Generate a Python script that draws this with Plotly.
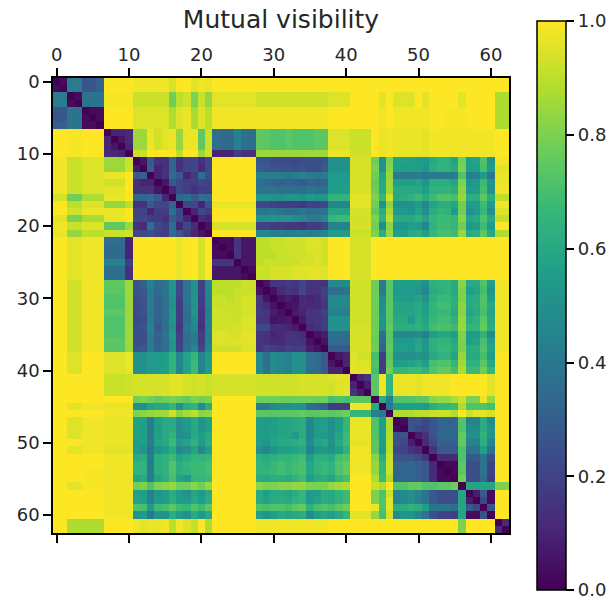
import plotly.graph_objects as go

# Upper triangle of the mutual-visibility matrix, in hundredths; each row starts just after the diagonal.
row_00 = [3, 42, 42, 27, 27, 30] + [100]*4 + [98]*5 + [94, 100, 100, 96, 98, 97] + [100]*41
row_01 = [42, 42, 27, 27, 30] + [100]*4 + [98]*5 + [94, 100, 100, 96, 98, 97] + [100]*41
tail_2 = [99]*4 + [92]*5 + [78, 90, 93, 80, 92, 84] + [96]*6 + [93]*10 + [95]*3 + [100]*3 + [100, 96, 100] + [95, 95, 95, 100, 96, 100, 100, 100, 100, 96] + [100]*4 + [88, 88]
row_02 = [3, 38, 38, 38] + tail_2
row_03 = [38, 38, 38] + tail_2
tail_4 = [100]*4 + [95]*5 + [88, 95, 97, 87, 95, 90] + [98]*16 + [100]*6 + [100, 98, 100] + [98, 98, 98, 98, 98, 100, 100, 99, 99, 99] + [100]*4 + [88, 88]
row_04 = [3, 3] + tail_4
row_05 = [3] + tail_4
row_06 = tail_4
tail_7 = [95]*3 + [92]*3 + [100, 97, 98] + [97, 97, 97, 97, 96, 98, 98, 98, 98, 98] + [98]*4 + [100, 100]
d_7 = [85, 85, 97, 93, 96, 97, 84, 97, 97, 75, 92]
e_7 = [36, 34, 34, 44, 36, 36]
f_7 = [75, 74, 72, 72, 74, 72, 72, 72, 74, 74]
row_07 = [10, 10, 12] + d_7 + e_7 + f_7 + tail_7
row_08 = [6, 12] + d_7 + e_7 + f_7 + tail_7
row_09 = [10] + d_7 + e_7 + f_7 + tail_7
row_10 = [92, 92, 100, 100, 100, 100, 90, 100, 100, 85, 93] + [10, 10, 10, 18, 14, 14] + [85]*10 + [97]*3 + [93]*3 + [100, 97, 98] + [97, 97, 97, 97, 96, 98, 98, 98, 98, 98] + [98]*4 + [100, 100]
row_11 = [6, 28, 14, 14, 33, 14, 20, 22, 14, 22] + [100]*6 + [27, 26, 24, 23, 23, 22, 24, 24, 24, 27] + [50, 50, 50] + [94]*3 + [78, 50, 80] + [57, 57, 57, 54, 54, 60, 64, 64, 58, 78] + [56, 58, 72, 52] + [98, 98]
row_12 = [30, 10, 14, 33, 14, 20, 22, 12, 22] + [100]*6 + [30, 28, 26, 26, 26, 24, 26, 24, 24, 28] + [50, 50, 50] + [94]*3 + [80, 50, 82] + [56, 56, 56, 56, 52, 62, 64, 64, 60, 80] + [56, 56, 70, 54] + [96, 96]
row_13 = [10, 14, 34, 28, 10, 18, 36, 24] + [100]*6 + [44, 42, 42, 42, 40, 42, 44, 42, 40, 42] + [54, 54, 54] + [94]*3 + [78, 58, 84] + [42, 42, 42, 42, 40, 42, 42, 42, 42, 72] + [44, 44, 54, 40] + [97, 97]
row_14 = [6, 28, 22, 18, 18, 22, 20] + [100]*6 + [36, 34, 32, 30, 32, 30, 28, 32, 30, 32] + [54, 54, 54] + [94]*3 + [76, 60, 85] + [56, 56, 56, 58, 52, 62, 62, 62, 58, 80] + [52, 54, 68, 52] + [97, 97]
row_15 = [10, 22, 18, 14, 18, 18] + [100]*6 + [38, 38, 38, 36, 36, 36, 36, 38, 36, 36] + [56, 56, 56] + [94]*3 + [78, 60, 85] + [60, 60, 60, 60, 56, 64, 64, 64, 62, 82] + [54, 56, 70, 52] + [98, 98]
row_16 = [32, 36, 28, 36, 34] + [100]*6 + [52, 52, 50, 50, 52, 52, 50, 54, 52, 52] + [65, 65, 65] + [96]*3 + [80, 66, 93] + [60, 62, 64, 68, 62, 68, 72, 72, 70, 84] + [62, 62, 74, 62] + [90, 90]
row_17 = [22, 22, 10, 26] + [97]*6 + [22, 22, 20, 18, 18, 18, 16, 20, 20, 22] + [46, 46, 46] + [96]*3 + [78, 50, 82] + [50, 50, 50, 54, 46, 58, 62, 62, 58, 78] + [54, 56, 68, 54] + [98, 98]
row_18 = [10, 22, 18] + [100]*6 + [40, 38, 40, 38, 36, 36, 40, 36, 36, 38] + [58, 58, 58] + [94]*3 + [76, 62, 87] + [54, 54, 52, 58, 50, 62, 66, 64, 54, 78] + [50, 54, 66, 50] + [95, 95]
row_19 = [12, 10] + [100]*6 + [50, 50, 52, 50, 52, 48, 46, 42, 42, 46] + [66, 68, 68] + [93]*3 + [80, 64, 90] + [60, 60, 60, 64, 58, 66, 68, 68, 66, 82] + [58, 60, 72, 60] + [91, 91]
row_20 = [5] + [94]*6 + [20, 20, 18, 18, 16, 16, 14, 18, 18, 22] + [45, 45, 45] + [94]*3 + [78, 48, 82] + [52, 52, 56, 54, 46, 64, 68, 68, 66, 78] + [54, 56, 68, 54] + [100, 100]
row_21 = [100]*6 + [46, 46, 44, 44, 42, 44, 44, 42, 44, 46] + [55, 55, 55] + [92]*3 + [80, 62, 84] + [56, 56, 60, 62, 56, 66, 70, 70, 68, 84] + [60, 62, 74, 60] + [88, 88]
tail_22 = [100]*3 + [94]*3 + [100]*19
row_22 = [3, 3, 15, 6, 6] + [90, 90, 92, 92, 93, 93, 93, 95, 95, 93] + tail_22
row_23 = [3, 15, 6, 6] + [90, 90, 92, 92, 93, 93, 93, 95, 95, 93] + tail_22
row_24 = [15, 6, 6] + [90, 90, 90, 92, 92, 93, 93, 94, 95, 93] + tail_22
row_25 = [6, 6] + [90, 92, 92, 92, 92, 92, 94, 94, 95, 93] + tail_22
row_26 = [3] + [93, 92, 94, 94, 94, 95, 95, 96, 96, 95] + tail_22
row_27 = [92, 92, 94, 94, 94, 95, 95, 96, 96, 95] + tail_22
row_28 = [5, 15, 15, 18, 15, 22, 15, 15, 15] + [46, 46, 48] + [93]*3 + [78, 42, 74] + [55, 55, 55, 55, 50, 63, 65, 65, 60, 82] + [60, 60, 72, 56] + [98, 98]
row_29 = [5, 12, 15, 14, 22, 14, 14, 20] + [36, 36, 38] + [93]*3 + [78, 42, 74] + [54, 54, 54, 52, 46, 61, 63, 65, 60, 80] + [56, 58, 70, 52] + [98, 98]
row_30 = [5, 8, 5, 12, 10, 12, 18] + [48, 48, 48] + [93]*3 + [78, 48, 74] + [56, 56, 56, 58, 52, 63, 67, 67, 62, 80] + [60, 62, 72, 56] + [98, 98]
row_31 = [5, 6, 12, 12, 12, 16] + [46, 46, 46] + [93]*3 + [78, 50, 74] + [58, 58, 58, 60, 56, 65, 69, 69, 62, 82] + [60, 62, 72, 60] + [98, 98]
row_32 = [7, 10, 15, 15, 20] + [44, 44, 44] + [93]*3 + [77, 50, 74] + [58, 58, 58, 60, 56, 65, 67, 67, 60, 82] + [58, 60, 70, 58] + [98, 98]
row_33 = [7, 14, 15, 18] + [50, 50, 50] + [93]*3 + [78, 52, 74] + [60, 60, 54, 62, 58, 67, 69, 69, 64, 84] + [62, 64, 74, 60] + [98, 98]
row_34 = [12, 14, 18] + [50, 50, 50] + [94]*3 + [78, 50, 76] + [62, 62, 62, 64, 60, 69, 71, 71, 68, 84] + [66, 66, 76, 62] + [98, 98]
row_35 = [5, 8] + [36, 36, 36] + [94]*3 + [78, 36, 74] + [46, 46, 46, 48, 44, 55, 59, 59, 56, 80] + [54, 54, 64, 48] + [98, 98]
row_36 = [5] + [34, 34, 34] + [94]*3 + [77, 34, 74] + [54, 54, 54, 58, 52, 63, 65, 65, 60, 80] + [56, 58, 70, 56] + [98, 98]
row_37 = [28, 28, 28] + [94]*3 + [78, 30, 76] + [56, 56, 54, 60, 54, 63, 67, 67, 62, 80] + [62, 62, 72, 58] + [98, 98]
row_38 = [6, 10] + [95, 93, 93] + [70, 18, 74] + [50, 50, 50, 52, 50, 60, 64, 64, 58, 84] + [60, 60, 70, 56] + [100, 100]
row_39 = [10] + [96, 95, 95] + [72, 18, 76] + [56, 56, 58, 60, 56, 70, 72, 72, 66, 86] + [64, 64, 74, 60] + [100, 100]
row_40 = [96, 96, 96] + [70, 18, 78] + [66, 66, 68, 68, 64, 72, 76, 76, 70, 88] + [68, 68, 78, 66] + [100, 100]
row_41 = [10, 15] + [74, 98, 66] + [97, 97, 97, 96, 98, 98, 98, 98, 100, 100] + [100, 100, 100, 96] + [100, 100]
row_42 = [8] + [74, 98, 66] + [97, 97, 97, 96, 98, 98, 98, 98, 100, 100] + [100, 100, 100, 96] + [100, 100]
row_43 = [74, 98, 66] + [97, 97, 97, 96, 98, 98, 98, 98, 100, 100] + [100, 100, 100, 96] + [100, 100]
row_44 = [62, 44] + [72, 72, 72, 74, 74, 82, 84, 84, 88, 92] + [80, 80, 97, 84] + [100, 100]
row_45 = [42] + [56, 56, 56, 56, 54, 62, 66, 66, 68, 88] + [72, 72, 72, 70] + [100, 100]
row_46 = [88, 88, 88, 90, 90, 92, 92, 92, 88, 100] + [92, 96, 96, 94] + [100, 100]
row_47 = [3, 25, 27, 22, 27, 32, 32, 32, 72] + [45, 45, 62, 48] + [100, 100]
row_48 = [25, 22, 20, 27, 32, 32, 32, 72] + [48, 48, 62, 52] + [100, 100]
row_49 = [8, 14, 25, 33, 33, 33, 76] + [50, 50, 64, 52] + [100, 100]
row_50 = [12, 22, 30, 30, 30, 76] + [45, 45, 62, 46] + [100, 100]
row_51 = [15, 28, 28, 28, 72] + [38, 38, 56, 38] + [100, 100]
row_52 = [12, 12, 12, 72] + [28, 28, 38, 25] + [100, 100]
row_53 = [2, 2, 74] + [24, 24, 38, 20] + [100, 100]
row_54 = [2, 74] + [24, 24, 38, 20] + [100, 100]
row_55 = [78] + [24, 24, 34, 18] + [100, 100]
row_56 = [58, 58, 58, 58] + [80, 80]
row_57 = [8, 28, 3, 100, 100]
row_58 = [22, 3, 100, 100]
row_59 = [25, 100, 100]
row_60 = [100, 100]
row_61 = [12]

rows = [row_00, row_01, row_02, row_03, row_04, row_05, row_06, row_07, row_08, row_09,
        row_10, row_11, row_12, row_13, row_14, row_15, row_16, row_17, row_18, row_19,
        row_20, row_21, row_22, row_23, row_24, row_25, row_26, row_27, row_28, row_29,
        row_30, row_31, row_32, row_33, row_34, row_35, row_36, row_37, row_38, row_39,
        row_40, row_41, row_42, row_43, row_44, row_45, row_46, row_47, row_48, row_49,
        row_50, row_51, row_52, row_53, row_54, row_55, row_56, row_57, row_58, row_59,
        row_60, row_61]

tick_values = [0, 10, 20, 30, 40, 50, 60]
colorbar_ticks = [0.0, 0.2, 0.4, 0.6, 0.8, 1.0]
title_text = "Mutual visibility"

size = 63
matrix = [[0.0] * size for _ in range(size)]
for i, row in enumerate(rows):
    if len(row) != size - 1 - i:
        raise ValueError(f"row {i}: {len(row)} != {size - 1 - i}")
    for k, v in enumerate(row):
        j = i + 1 + k
        matrix[i][j] = v / 100
        matrix[j][i] = v / 100

font = dict(family="DejaVu Sans", size=18, color="#262626")
fig = go.Figure(go.Heatmap(
    z=matrix, colorscale="Viridis", zmin=0, zmax=1, hoverongaps=False,
    colorbar=dict(
        thickness=29, thicknessmode="pixels", len=569, lenmode="pixels",
        x=1.061, xanchor="left", y=1.125, yanchor="top", xpad=0, ypad=0,
        tickvals=colorbar_ticks, tickformat=".1f", ticks="outside", ticklen=8,
        tickcolor="black", tickwidth=1.5, outlinecolor="black", outlinewidth=1.5,
        tickfont=font,
    ),
))
fig.update_layout(
    width=616, height=603, autosize=False,
    margin=dict(l=53, r=107, t=78, b=70, autoexpand=False),
    paper_bgcolor="white", plot_bgcolor="white", font=font,
    title=dict(text=title_text, x=281/616, xanchor="center", y=1-19/603, yanchor="middle",
               font=dict(family="DejaVu Sans", size=25, color="#262626")),
    xaxis=dict(side="top", range=[-0.5, 62.5], tickvals=tick_values, ticks="outside", ticklen=8,
               tickcolor="black", tickwidth=1.5, showline=True, linecolor="black", linewidth=1.5,
               mirror="ticks", showgrid=False, zeroline=False, tickangle=0),
    yaxis=dict(range=[62.5, -0.5], tickvals=tick_values, ticks="outside", ticklen=8,
               tickcolor="black", tickwidth=1.5, showline=True, linecolor="black", linewidth=1.5,
               mirror=True, showgrid=False, zeroline=False),
)
fig.write_html("out.html", config={"displayModeBar": False},
               post_script="document.body.style.margin='0';document.documentElement.style.overflow='hidden';")
